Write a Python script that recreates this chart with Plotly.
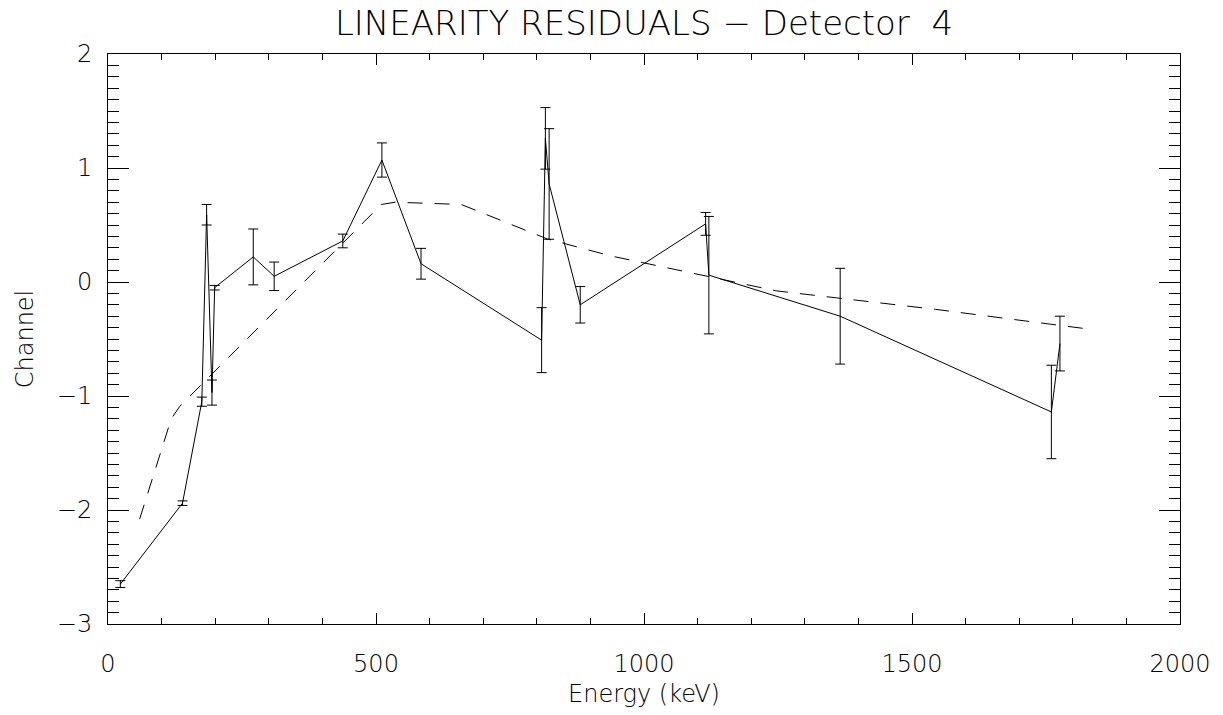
import plotly.graph_objects as go

# Measured residuals (solid line with error bars)
energy_kev = [23, 139, 175, 184, 194, 199, 271, 310, 438, 511, 584,
              809, 816, 823, 881, 1115, 1121, 1366, 1760, 1776]
residual = [-2.65, -1.94, -1.05, 0.59, -0.97, -0.05, 0.22, 0.05, 0.36, 1.07, 0.16,
            -0.51, 1.26, 0.86, -0.20, 0.51, 0.06, -0.30, -1.14, -0.54]
residual_err = [0.03, 0.02, 0.04, 0.09, 0.11, 0.02, 0.245, 0.125, 0.06, 0.15, 0.135,
                0.285, 0.27, 0.485, 0.16, 0.10, 0.515, 0.42, 0.41, 0.24]

# Fitted curve (dashed line)
fit_energy = [59, 118, 134, 510, 536, 659, 820, 937, 1247, 1544, 1692, 1825]
fit_value = [-2.08, -1.20, -1.09, 0.68, 0.70, 0.68, 0.377, 0.23, -0.078, -0.24, -0.33, -0.41]

x_ticks = [0, 500, 1000, 1500, 2000]
y_ticks = [-3, -2, -1, 0, 1, 2]

FONT = "DejaVu Sans"

fig = go.Figure()
fig.add_trace(go.Scatter(
    x=fit_energy, y=fit_value, mode="lines",
    line=dict(color="black", width=1, dash="15px,12px"),
    showlegend=False, hoverinfo="skip"))
fig.add_trace(go.Scatter(
    x=energy_kev, y=residual, mode="lines",
    line=dict(color="black", width=1),
    error_y=dict(type="data", array=residual_err, visible=True,
                 color="black", thickness=1, width=5),
    showlegend=False))

fig.update_layout(
    width=1223, height=715,
    paper_bgcolor="white", plot_bgcolor="white",
    margin=dict(l=108, r=37, t=54, b=86),
    title=dict(text="LINEARITY RESIDUALS \u2212 Detector  4",
               x=0.5, xref="paper", xanchor="center",
               y=1 - 23 / 715, yref="container", yanchor="middle",
               font=dict(family=FONT, size=34, color="black", weight=300)),
    font=dict(family=FONT, size=24, color="black"),
)

fig.update_xaxes(
    range=[0, 2000], tickvals=x_ticks, ticktext=[str(v) for v in x_ticks],
    showgrid=False, zeroline=False, showline=True, linecolor="black", linewidth=1,
    mirror="allticks", ticks="inside", ticklen=11, tickcolor="black", tickwidth=1,
    minor=dict(ticks="inside", ticklen=6, dtick=100, tick0=0,
               tickcolor="black", tickwidth=1, showgrid=False),
    tickfont=dict(family=FONT, size=24, color="black", weight=300),
    ticklabelstandoff=18,
    title=dict(text="Energy (keV)", standoff=8,
               font=dict(family=FONT, size=24, color="black", weight=300)),
)
fig.update_yaxes(
    range=[-3, 2], tickvals=y_ticks,
    showgrid=False, zeroline=False, showline=True, linecolor="black", linewidth=1,
    mirror="allticks", ticks="inside", ticklen=21, tickcolor="black", tickwidth=1,
    minor=dict(ticks="inside", ticklen=11, dtick=0.1, tick0=0,
               tickcolor="black", tickwidth=1, showgrid=False),
    tickfont=dict(family=FONT, size=24, color="black", weight=300),
    ticklabelstandoff=10,
    title=dict(text="Channel", standoff=16,
               font=dict(family=FONT, size=24, color="black", weight=300)),
)

fig.write_html("out.html", config={"displayModeBar": False},
               post_script="document.body.style.margin='0px';")
